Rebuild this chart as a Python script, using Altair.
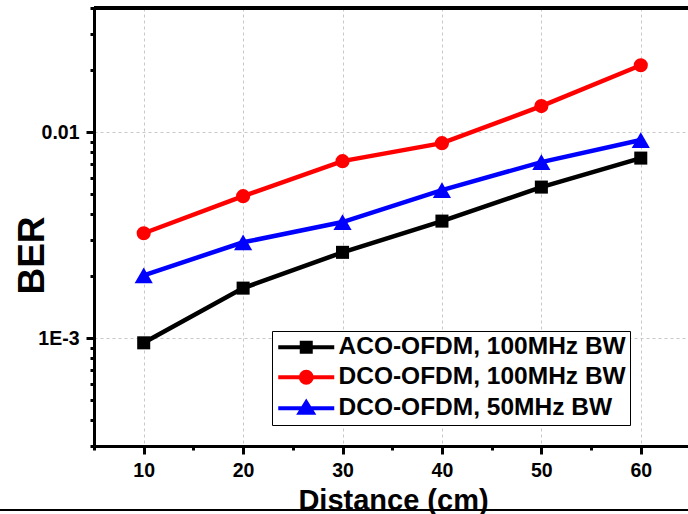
import altair as alt
import pandas as pd

# ---- data ----
distance = [10, 20, 30, 40, 50, 60]
series_names = ["ACO-OFDM, 100MHz BW", "DCO-OFDM, 100MHz BW", "DCO-OFDM, 50MHz BW"]
aco_100 = [9.5e-4, 1.75e-3, 2.61e-3, 3.70e-3, 5.41e-3, 7.48e-3]
dco_100 = [3.23e-3, 4.89e-3, 7.23e-3, 8.84e-3, 1.337e-2, 2.11e-2]
dco_50 = [2.02e-3, 2.92e-3, 3.66e-3, 5.23e-3, 7.15e-3, 9.15e-3]
series_values = [aco_100, dco_100, dco_50]

x_tick_values = [5, 10, 15, 20, 25, 30, 35, 40, 45, 50, 55, 60]
y_tick_values = [3e-4, 4e-4, 5e-4, 6e-4, 7e-4, 8e-4, 9e-4,
                 1e-3, 2e-3, 3e-3, 4e-3, 5e-3, 6e-3, 7e-3, 8e-3, 9e-3,
                 1e-2, 2e-2, 3e-2, 4e-2]

colors = ["#000000", "#ff0000", "#0000ff"]
marker_shapes = ["square", "circle", "triangle-up"]
marker_sizes = [170, 200, 330]
legend_paths = [
    "M-2.8,0L2.8,0M-0.45,-0.45L0.45,-0.45L0.45,0.45L-0.45,0.45Z",
    "M-2.8,0L2.8,0M-0.55,0A0.55,0.55 0 1,0 0.55,0A0.55,0.55 0 1,0 -0.55,0Z",
    "M-2.8,0L2.8,0M0,-0.6L0.65,0.45L-0.65,0.45Z",
]

FONT = "Liberation Sans"

rows = []
for name, vals in zip(series_names, series_values):
    for d, v in zip(distance, vals):
        rows.append({"series": name, "distance": d, "ber": v})
df = pd.DataFrame(rows)

x_enc = alt.X(
    "distance:Q",
    title="Distance (cm)",
    scale=alt.Scale(domain=[5, 64.75], nice=False, zero=False),
    axis=alt.Axis(
        values=x_tick_values,
        labelExpr="datum.value % 10 == 0 ? datum.label : ''",
        tickSize={"condition": {"test": "datum.value % 10 == 0", "value": 8}, "value": 4},
        gridOpacity={"condition": {"test": "datum.value % 10 == 0", "value": 1}, "value": 0},
        labelFontSize=19.5, labelPadding=7,
        titleFontSize=29, titleX=299, titleY=63, titleAlign="center",
        titleBaseline="alphabetic",
    ),
)
major_y = "datum.value == 0.01 || datum.value == 0.001"
y_enc = alt.Y(
    "ber:Q",
    title="BER",
    scale=alt.Scale(type="log", domain=[3e-4, 0.04], nice=False),
    axis=alt.Axis(
        values=y_tick_values,
        labelExpr="datum.value == 0.01 ? '0.01' : (datum.value == 0.001 ? '1E-3' : '')",
        tickSize={"condition": {"test": major_y, "value": 8}, "value": 4},
        gridOpacity={"condition": {"test": major_y, "value": 1}, "value": 0},
        labelFontSize=19.5, labelPadding=7,
        titleFontSize=37, titleX=-61.5, titleY=247, titleAngle=-90,
        titleAlign="center", titleBaseline="middle",
    ),
)

layers = []
for name, col, shp, sz in zip(series_names, colors, marker_shapes, marker_sizes):
    sub = df[df["series"] == name]
    base = alt.Chart(sub).encode(x=x_enc, y=y_enc)
    layers.append(base.mark_line(color=col, strokeWidth=4.5))
    layers.append(base.mark_point(shape=shp, size=sz, filled=True, color=col, opacity=1))

legend = alt.Legend(
    title=None, orient="none", legendX=178, legendY=323,
    fillColor="white", strokeColor="black", padding=4,
    labelFont=FONT, labelFontSize=24.5, labelFontWeight="bold", labelColor="black",
    labelLimit=0, symbolSize=400, symbolStrokeWidth=4, symbolOpacity=1,
    rowPadding=3, labelOffset=20, symbolOffset=18,
)
legend_layer = alt.Chart(df).mark_point(filled=True, opacity=0).encode(
    x=x_enc, y=y_enc,
    fill=alt.Fill("series:N", scale=alt.Scale(domain=series_names, range=colors), legend=legend),
    stroke=alt.Stroke("series:N", scale=alt.Scale(domain=series_names, range=colors), legend=legend),
    shape=alt.Shape("series:N", scale=alt.Scale(domain=series_names, range=legend_paths), legend=legend),
)

top_border = alt.Chart(df).mark_rule(color="black", strokeWidth=3).encode(
    x=alt.value(0), x2=alt.value(594), y=alt.value(0)
)
bottom_line = alt.Chart(df).mark_rule(color="black", strokeWidth=2).encode(
    x=alt.value(-94), x2=alt.value(594), y=alt.value(502)
)

chart = alt.layer(*layers, legend_layer, top_border, bottom_line).properties(
    width=594, height=438,
    padding={"left": 94, "top": 8, "right": 0, "bottom": 68},
    autosize=alt.AutoSizeParams(type="none"),
).configure_view(stroke=None).configure_axis(
    labelFont=FONT, titleFont=FONT, labelFontWeight="bold", titleFontWeight="bold",
    labelColor="black", titleColor="black",
    domainColor="black", domainWidth=3, tickColor="black", tickWidth=3,
    gridColor="#c8c8c8", gridDash=[3, 3], gridWidth=1,
).configure_legend(strokeWidth=1)

chart.save("out.html", embed_options={"renderer": "svg", "actions": False})
